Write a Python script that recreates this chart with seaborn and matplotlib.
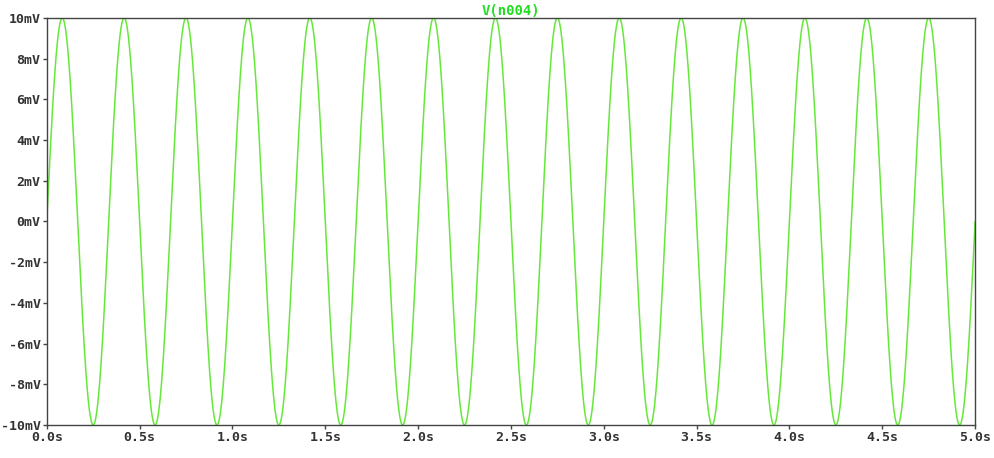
import numpy as np
import pandas as pd
import matplotlib
matplotlib.use("Agg")
import matplotlib.pyplot as plt
import seaborn as sns

# signal: 15 cycles over 5 s, +/-10 mV
freq_hz = 3.0
amp_mv = 10.0
t_end = 5.0
x_ticks = [0.0, 0.5, 1.0, 1.5, 2.0, 2.5, 3.0, 3.5, 4.0, 4.5, 5.0]
y_ticks = [-10, -8, -6, -4, -2, 0, 2, 4, 6, 8, 10]

t = np.linspace(0, t_end, 3000)
df = pd.DataFrame({"t": t, "v": amp_mv * np.sin(2 * np.pi * freq_hz * t)})

sns.set_style("white")
plt.rcParams["font.family"] = ["DejaVu Sans Mono"]

fig = plt.figure(figsize=(9.95, 4.58), dpi=100)
ax = fig.add_axes([0.047, 0.072, 0.933, 0.889])
sns.lineplot(data=df, x="t", y="v", ax=ax, color="#66e83a", linewidth=1.1)

ax.set_xlim(0, t_end)
ax.set_ylim(-10, 10)
ax.set_xticks(x_ticks)
ax.set_xticklabels([f"{v:.1f}s" for v in x_ticks], fontweight="bold")
ax.set_yticks(y_ticks)
ax.set_yticklabels([f"{v}mV" for v in y_ticks], fontweight="bold")
ax.set_xlabel("")
ax.set_ylabel("")
ax.tick_params(axis="both", direction="out", length=3, width=1, color="#444444",
               labelsize=9.5, labelcolor="#333333", pad=1.5, bottom=True, left=True)
for s in ax.spines.values():
    s.set_color("#444444")
    s.set_linewidth(1)
ax.set_title("V(n004)", color="#22dd22", fontsize=10, fontweight="bold", pad=2)

fig.savefig("out.png", dpi=100)
